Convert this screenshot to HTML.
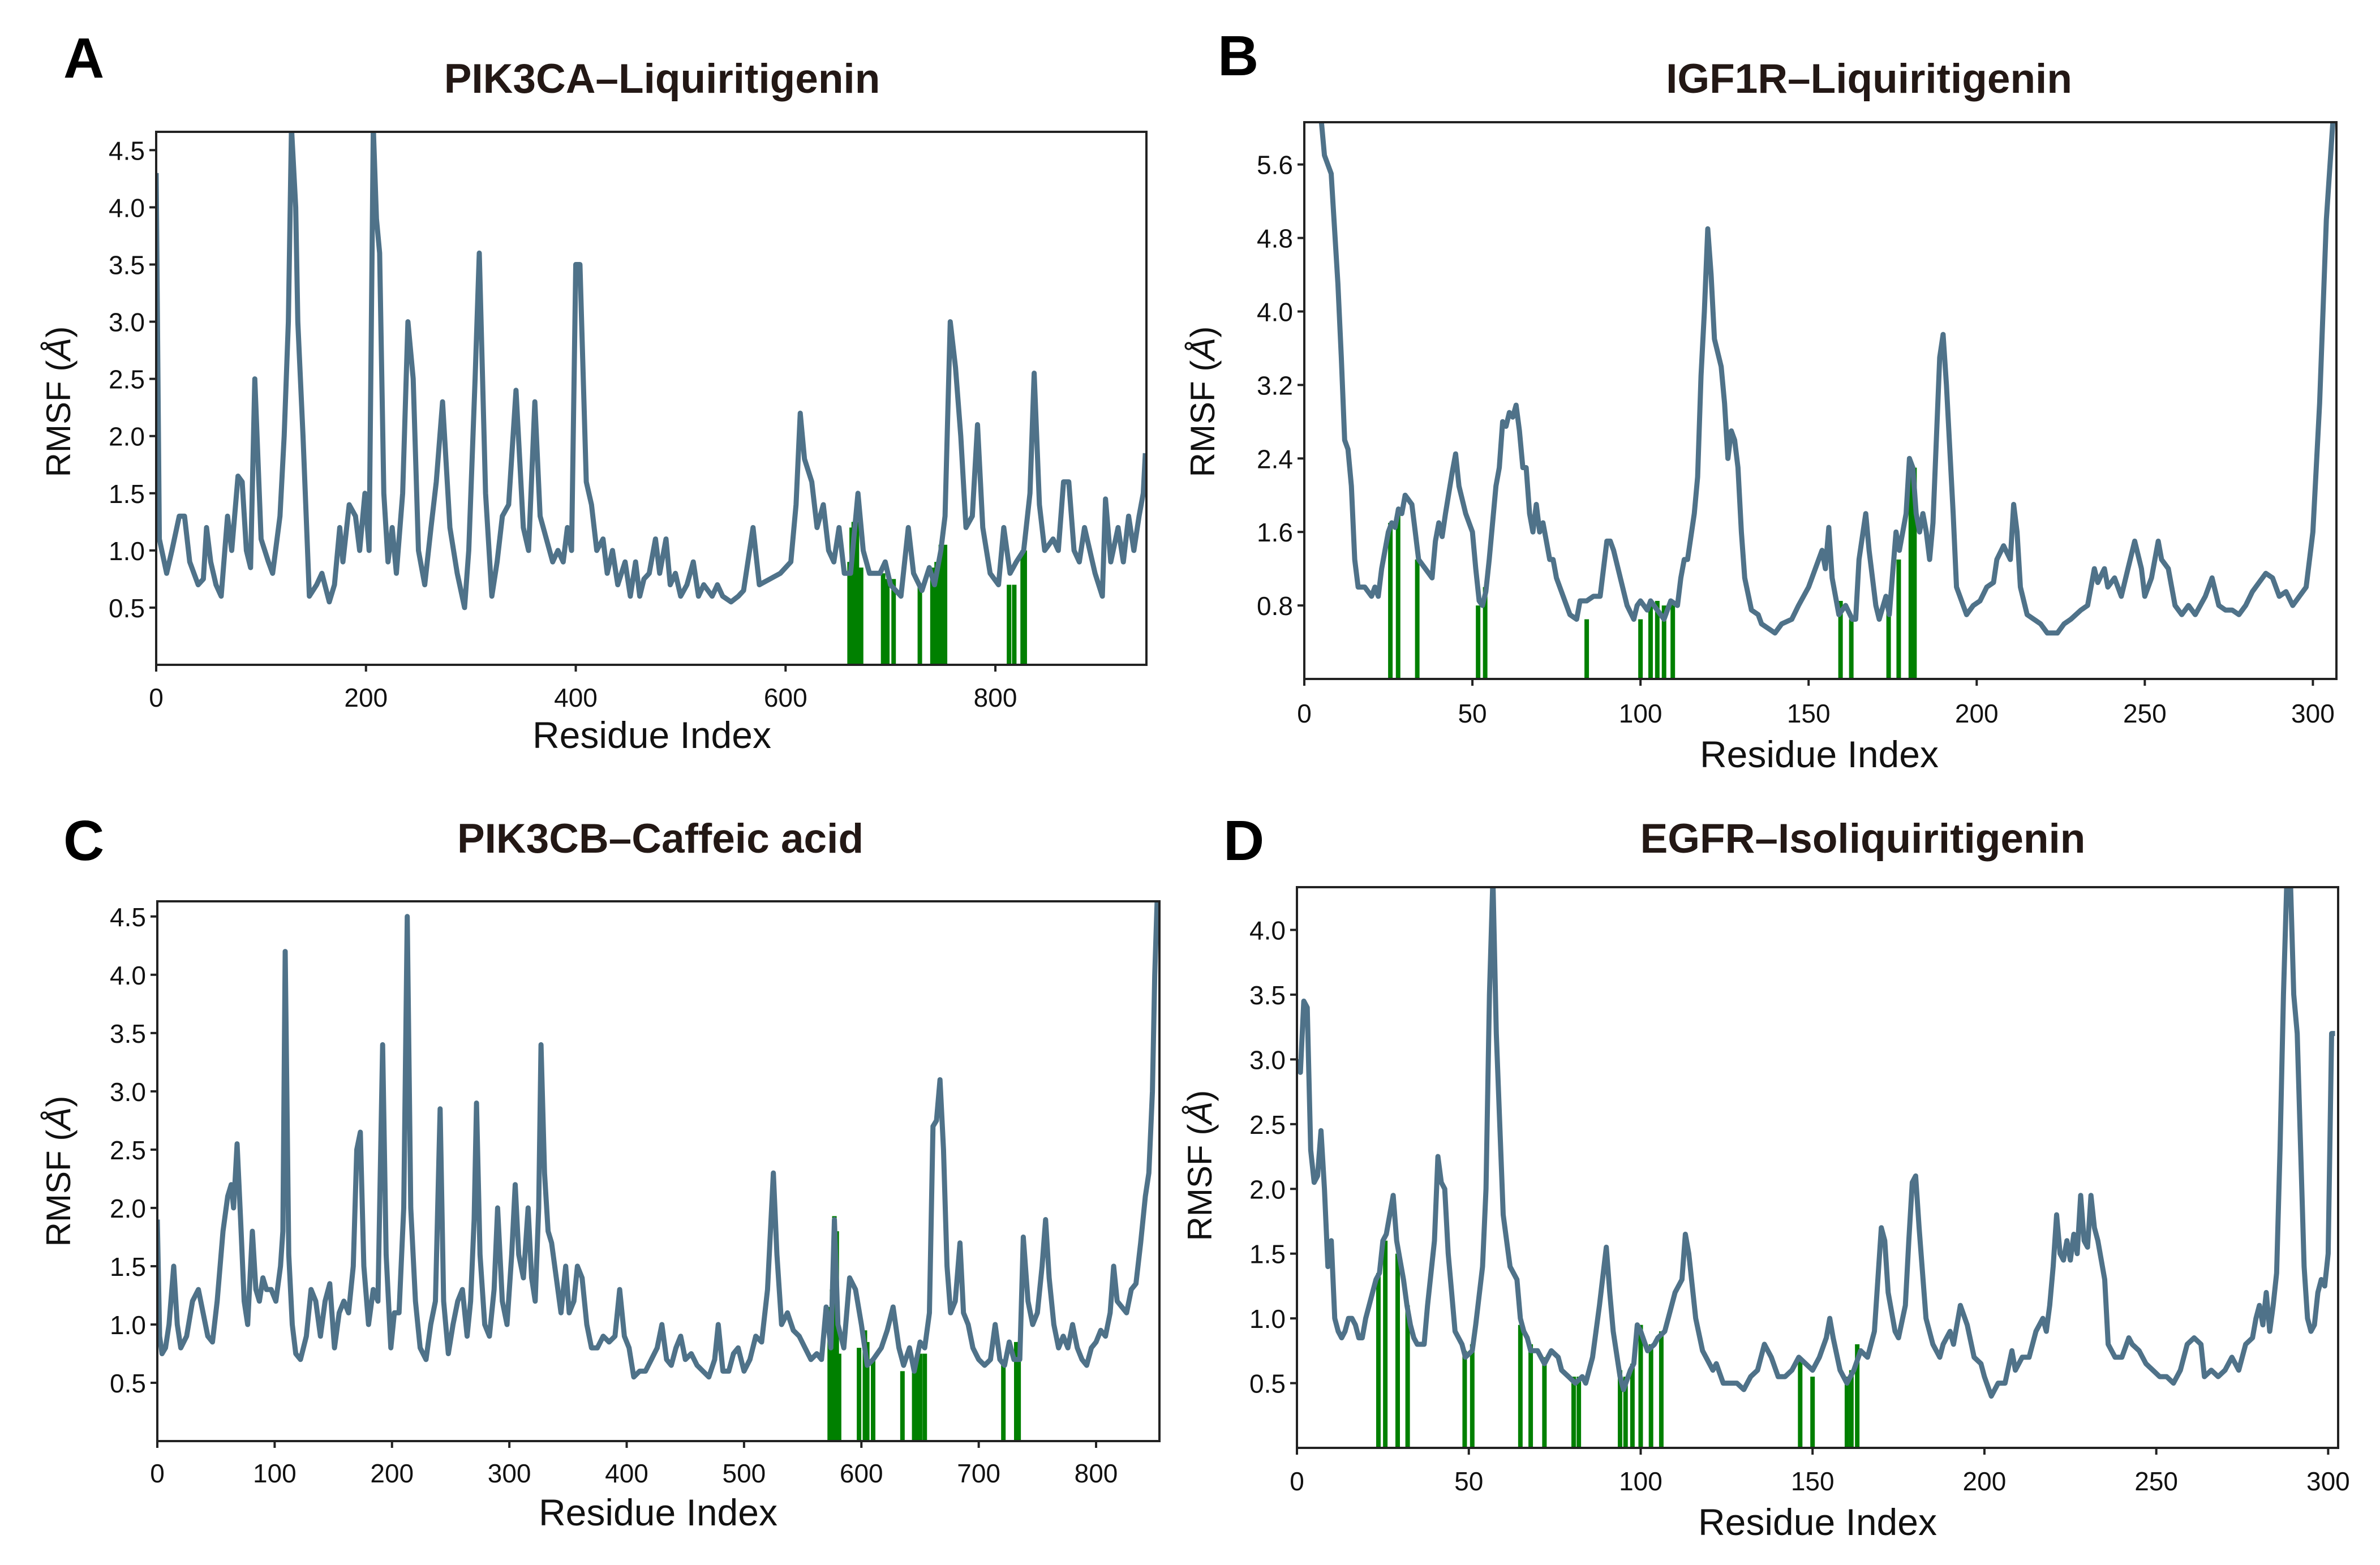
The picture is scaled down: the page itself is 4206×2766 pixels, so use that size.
<!DOCTYPE html>
<html><head><meta charset="utf-8"><style>
html,body{margin:0;padding:0;background:#fff}
svg{display:block}
text{font-family:"Liberation Sans","DejaVu Sans",sans-serif}
</style></head><body>
<svg id="fig" xmlns="http://www.w3.org/2000/svg" width="4206" height="2766" viewBox="0 0 4206 2766"></svg>
<script>
// ---- Panel A data ----
const aRes=[0,3,10,15,22,27,32,40,45,48,52,57,62,68,72,78,82,86,90,94,100,107,111,118,122,126,129,133,135,140,146,153,158,165,170,175,178,184,190,194,199,203,207,210,213,217,221,225,229,235,240,245,250,256,262,267,273,280,287,294,298,304,308,314,320,325,330,336,343,350,355,361,366,372,378,383,388,392,396,400,404,410,415,420,426,430,435,440,447,452,457,461,465,470,476,480,486,490,495,500,506,512,517,522,530,535,540,548,555,560,569,575,585,595,605,610,614,618,625,630,636,641,646,651,656,662,669,674,680,690,695,700,710,717,722,730,737,742,748,752,757,762,767,772,778,783,788,795,803,808,814,820,827,833,837,842,847,855,860,865,870,875,880,885,895,902,905,910,917,922,927,932,937,941,943];
const aVal=[4.3,1.1,0.8,1.0,1.3,1.3,0.9,0.7,0.75,1.2,0.9,0.7,0.6,1.3,1.0,1.65,1.6,1.0,0.85,2.5,1.1,0.9,0.8,1.3,2.0,3.0,4.7,4.0,3.0,2.0,0.6,0.7,0.8,0.55,0.7,1.2,0.9,1.4,1.3,1.0,1.5,1.0,4.7,3.9,3.6,1.5,0.9,1.2,0.8,1.5,3.0,2.5,1.0,0.7,1.2,1.6,2.3,1.2,0.8,0.5,1.0,2.5,3.6,1.5,0.6,0.9,1.3,1.4,2.4,1.2,1.0,2.3,1.3,1.1,0.9,1.0,0.9,1.2,1.0,3.5,3.5,1.6,1.4,1.0,1.1,0.8,1.0,0.7,0.9,0.6,0.9,0.6,0.75,0.8,1.1,0.8,1.1,0.7,0.8,0.6,0.7,0.9,0.6,0.7,0.6,0.7,0.6,0.55,0.6,0.65,1.2,0.7,0.75,0.8,0.9,1.4,2.2,1.8,1.6,1.2,1.4,1.0,0.9,1.2,0.8,0.8,1.5,1.0,0.8,0.8,0.9,0.7,0.6,1.2,0.8,0.65,0.85,0.7,1.0,1.3,3.0,2.6,2.0,1.2,1.3,2.1,1.2,0.8,0.7,1.2,0.8,0.9,1.0,1.5,2.55,1.4,1.0,1.1,1.0,1.6,1.6,1.0,0.9,1.2,0.8,0.6,1.45,0.9,1.2,0.9,1.3,1.0,1.3,1.5,1.85];
const aSiteRes=[661,663,665,668,672,693,697,703,728,740,744,748,752,813,818,826,828];
const aSiteVal=[0.9,1.2,1.25,1.25,0.85,0.8,0.75,0.75,0.7,0.85,0.9,1.05,1.05,0.7,0.7,1.0,1.0];
const aXTicks=[0,200,400,600,800];
const aYTicks=[0.5,1.0,1.5,2.0,2.5,3.0,3.5,4.0,4.5];
// ---- Panel B data ----
const bRes=[5,6,8,10,11,12,13,14,15,16,18,20,21,22,23,25,26,27,28,29,30,31,32,33,34,36,38,39,40,41,42,44,45,46,48,50,51,52,53,54,55,57,58,59,60,61,62,63,64,65,66,67,68,69,70,71,72,73,74,75,76,77,79,81,82,84,86,88,90,91,92,94,96,98,99,100,102,103,105,107,109,111,112,113,114,116,117,118,119,120,121,122,124,125,126,127,128,129,130,131,133,135,136,138,140,142,145,147,150,152,154,155,156,157,159,161,163,164,165,167,168,170,171,173,174,176,177,178,179,180,181,182,183,184,185,186,187,189,190,191,193,194,195,197,199,201,203,205,206,208,210,211,212,213,215,217,219,221,224,226,228,231,233,235,236,238,239,241,243,245,247,249,250,252,254,255,257,259,261,263,265,268,270,272,274,276,278,280,282,284,286,288,290,292,294,296,298,300,302,304,306];
const bVal=[6.1,5.7,5.5,4.3,3.5,2.6,2.5,2.1,1.3,1.0,1.0,0.9,1.0,0.9,1.2,1.6,1.7,1.65,1.85,1.8,2.0,1.95,1.9,1.6,1.3,1.2,1.1,1.5,1.7,1.55,1.8,2.25,2.45,2.1,1.8,1.6,1.2,0.85,0.8,0.95,1.3,2.1,2.3,2.8,2.75,2.9,2.85,2.98,2.7,2.3,2.3,1.8,1.6,1.9,1.6,1.7,1.5,1.3,1.3,1.1,1.0,0.9,0.7,0.65,0.85,0.85,0.9,0.9,1.5,1.5,1.4,1.1,0.8,0.65,0.8,0.85,0.75,0.85,0.75,0.65,0.85,0.8,1.1,1.3,1.3,1.8,2.2,3.3,4.0,4.9,4.4,3.7,3.4,3.0,2.4,2.7,2.6,2.3,1.6,1.1,0.75,0.7,0.6,0.55,0.5,0.6,0.65,0.8,1.0,1.2,1.4,1.2,1.65,1.1,0.7,0.8,0.65,0.65,1.3,1.8,1.4,0.8,0.65,0.9,0.7,1.6,1.4,1.6,1.8,2.4,2.3,1.8,1.6,1.8,1.6,1.3,1.7,3.5,3.75,3.2,1.8,1.0,0.9,0.7,0.8,0.85,1.0,1.05,1.3,1.45,1.3,1.9,1.6,1.0,0.7,0.65,0.6,0.5,0.5,0.6,0.65,0.75,0.8,1.2,1.05,1.2,1.0,1.1,0.9,1.2,1.5,1.2,0.9,1.1,1.5,1.3,1.2,0.8,0.7,0.8,0.7,0.9,1.1,0.8,0.75,0.75,0.7,0.8,0.95,1.05,1.15,1.1,0.9,0.95,0.8,0.9,1.0,1.6,3.0,5.0,6.1];
const bSiteRes=[25.6,27.9,33.6,51.7,53.8,84,100,103,105,107,109.6,159.5,162.7,173.8,176.8,180.4,181.5];
const bSiteVal=[1.7,1.85,1.3,0.8,1.0,0.65,0.65,0.8,0.85,0.8,0.85,0.85,0.65,0.75,1.3,2.35,2.3];
const bXTicks=[0,50,100,150,200,250,300];
const bYTicks=[0.8,1.6,2.4,3.2,4.0,4.8,5.6];
// ---- Panel C data ----
const cRes=[0,2,4,7,10,14,17,20,25,30,35,39,43,47,51,56,60,63,65,68,71,74,77,81,84,87,90,93,97,101,105,107,109,112,115,118,122,127,131,135,139,143,147,151,155,159,163,167,170,173,176,180,184,188,192,195,199,202,206,210,213,216,220,224,229,233,237,241,244,248,252,256,260,264,267,270,272,275,279,283,287,290,294,298,302,305,308,312,316,319,322,325,327,330,333,336,340,344,348,351,355,358,362,366,370,375,380,385,390,394,398,402,406,411,416,421,426,430,434,438,442,446,450,455,460,465,470,475,478,482,487,491,495,500,505,510,515,520,525,528,532,537,542,547,552,557,562,566,570,574,577,580,585,590,595,600,605,610,617,622,627,632,636,641,645,650,654,658,661,664,667,670,673,676,680,684,687,691,695,700,705,710,714,718,722,726,730,735,738,742,746,750,754,757,760,764,768,772,776,780,784,788,792,796,800,804,808,812,815,818,822,826,830,834,838,842,845,848,850,852,854];
const cVal=[1.9,0.9,0.75,0.8,1.0,1.5,1.0,0.8,0.9,1.2,1.3,1.1,0.9,0.85,1.2,1.8,2.1,2.2,2.0,2.55,1.9,1.2,1.0,1.8,1.3,1.2,1.4,1.3,1.3,1.2,1.5,1.8,4.2,1.6,1.0,0.75,0.7,0.9,1.3,1.2,0.9,1.2,1.35,0.8,1.1,1.2,1.1,1.5,2.5,2.65,1.5,1.0,1.3,1.2,3.4,1.6,0.8,1.1,1.1,2.0,4.5,2.0,1.2,0.8,0.7,1.0,1.2,2.85,1.2,0.75,1.0,1.2,1.3,0.9,1.2,1.9,2.9,1.6,1.0,0.9,1.3,2.0,1.2,1.0,1.6,2.2,1.6,1.4,2.0,1.4,1.2,2.0,3.4,2.3,1.8,1.7,1.4,1.1,1.5,1.1,1.2,1.5,1.4,1.0,0.8,0.8,0.9,0.85,0.9,1.3,0.9,0.8,0.55,0.6,0.6,0.7,0.8,1.0,0.7,0.65,0.8,0.9,0.7,0.75,0.65,0.6,0.55,0.7,1.0,0.6,0.6,0.75,0.8,0.6,0.7,0.9,0.85,1.3,2.3,1.6,1.0,1.1,0.95,0.9,0.8,0.7,0.75,0.7,1.15,0.8,1.9,1.0,0.8,1.4,1.3,1.0,0.65,0.7,0.8,0.95,1.15,0.8,0.65,0.8,0.6,0.85,0.8,1.1,2.7,2.75,3.1,2.5,1.5,1.1,1.2,1.7,1.1,1.0,0.8,0.7,0.65,0.7,1.0,0.7,0.65,0.85,0.7,0.7,1.75,1.2,1.0,1.1,1.5,1.9,1.4,1.0,0.8,0.9,0.8,1.0,0.8,0.7,0.65,0.8,0.85,0.95,0.9,1.1,1.5,1.2,1.15,1.1,1.3,1.35,1.7,2.1,2.3,3.0,4.0,4.63,4.63];
const cSiteRes=[573,575,577,579,581,598,603,605,610,635,645,648,650,654,721,732,734];
const cSiteVal=[1.15,1.3,1.93,1.8,0.75,0.8,0.95,0.85,0.7,0.6,0.7,0.75,0.75,0.75,0.7,0.85,0.85];
const cXTicks=[0,100,200,300,400,500,600,700,800];
const cYTicks=[0.5,1.0,1.5,2.0,2.5,3.0,3.5,4.0,4.5];
// ---- Panel D data ----
const dRes=[0,1,2,3,4,5,6,7,8,9,10,11,12,13,14,15,16,17,18,19,20,22,23,24,25,26,27,28,29,30,31,32,33,34,35,37,38,40,41,42,43,44,45,46,48,49,51,52,54,55,56,57,58,59,60,62,63,64,65,66,67,68,70,72,74,76,77,79,81,83,84,86,88,90,91,92,94,95,97,98,99,100,102,104,105,107,108,110,112,113,114,116,118,120,121,122,124,126,128,130,132,134,136,138,140,142,144,146,148,150,152,154,155,156,158,160,162,164,166,168,169,170,171,172,174,175,177,178,179,180,181,183,185,187,188,190,191,193,195,197,199,200,202,204,206,208,209,211,213,215,217,218,219,220,221,222,223,224,225,226,227,228,229,230,231,232,233,235,236,238,240,242,243,245,247,249,251,253,255,257,259,261,263,264,266,268,270,272,274,276,278,279,280,281,282,283,284,285,286,287,288,289,290,291,292,293,294,295,296,297,298,299,300,301,302];
const dVal=[3.0,2.9,3.45,3.4,2.3,2.05,2.1,2.45,2.0,1.4,1.6,1.0,0.9,0.85,0.9,1.0,1.0,0.95,0.85,0.85,1.0,1.2,1.3,1.35,1.6,1.65,1.8,1.95,1.6,1.45,1.3,1.1,0.95,0.85,0.8,0.8,1.1,1.6,2.25,2.05,2.0,1.5,1.2,0.9,0.8,0.7,0.75,0.95,1.4,2.0,3.5,4.4,3.2,2.5,1.8,1.4,1.35,1.3,1.0,0.9,0.85,0.75,0.75,0.65,0.75,0.7,0.6,0.55,0.5,0.55,0.5,0.7,1.1,1.55,1.2,0.9,0.55,0.45,0.6,0.65,0.95,0.9,0.75,0.8,0.85,0.9,1.0,1.2,1.3,1.65,1.5,1.0,0.75,0.65,0.6,0.65,0.5,0.5,0.5,0.45,0.55,0.6,0.8,0.7,0.55,0.55,0.6,0.7,0.65,0.6,0.7,0.85,1.0,0.85,0.6,0.5,0.6,0.75,0.7,0.9,1.3,1.7,1.6,1.2,0.9,0.85,1.1,1.6,2.05,2.1,1.7,1.0,0.8,0.7,0.8,0.9,0.8,1.1,0.95,0.7,0.65,0.55,0.4,0.5,0.5,0.75,0.6,0.7,0.7,0.9,1.0,0.9,1.1,1.4,1.8,1.5,1.45,1.6,1.45,1.65,1.5,1.95,1.6,1.55,1.95,1.7,1.6,1.3,0.8,0.7,0.7,0.85,0.8,0.75,0.65,0.6,0.55,0.55,0.5,0.6,0.8,0.85,0.8,0.55,0.6,0.55,0.6,0.7,0.6,0.8,0.85,1.0,1.1,0.95,1.2,0.9,1.1,1.35,2.3,3.5,4.4,4.4,3.5,3.2,2.3,1.4,1.0,0.9,0.95,1.2,1.3,1.25,1.5,3.2,3.2];
const dSiteRes=[23.7,25.7,29.3,32.2,48.8,51,65,68,72,80.5,82,94,95.6,97.6,100,103,106,146.4,150,160,161.3,163];
const dSiteVal=[1.35,1.6,1.5,1.1,0.75,0.8,0.95,0.8,0.7,0.55,0.55,0.6,0.55,0.65,0.95,0.8,0.9,0.7,0.55,0.55,0.6,0.8];
const dXTicks=[0,50,100,150,200,250,300];
const dYTicks=[0.5,1.0,1.5,2.0,2.5,3.0,3.5,4.0];

const NS='http://www.w3.org/2000/svg';
const svg=document.getElementById('fig');
function mk(tag,attrs,parent){const e=document.createElementNS(NS,tag);for(const k in attrs)e.setAttribute(k,attrs[k]);(parent||svg).appendChild(e);return e;}

const panels=[
 {id:'a',letter:'A',title:'PIK3CA–Liquiritigenin',L:276,R:2026,T:233,B:1175,x0:0,x1:944,y0:0,y1:4.66,res:aRes,val:aVal,sr:aSiteRes,sv:aSiteVal,xt:aXTicks,yt:aYTicks,
  titleX:1170,titleY:164,letX:112,letY:137,ylabX:108,ylabY:710,xtY:1249,xlabY:1322,xlabX:1152},
 {id:'b',letter:'B',title:'IGF1R–Liquiritigenin',L:2305,R:4129,T:216,B:1200,x0:0,x1:307,y0:0,y1:6.06,res:bRes,val:bVal,sr:bSiteRes,sv:bSiteVal,xt:bXTicks,yt:bYTicks,
  titleX:3303,titleY:164,letX:2152,letY:133,ylabX:2130,ylabY:710,xtY:1277,xlabY:1356,xlabX:3215},
 {id:'c',letter:'C',title:'PIK3CB–Caffeic acid',L:278,R:2049,T:1593,B:2547,x0:0,x1:854,y0:0,y1:4.63,res:cRes,val:cVal,sr:cSiteRes,sv:cSiteVal,xt:cXTicks,yt:cYTicks,
  titleX:1167,titleY:1507,letX:112,letY:1520,ylabX:108,ylabY:2070,xtY:2620,xlabY:2696,xlabX:1163},
 {id:'d',letter:'D',title:'EGFR–Isoliquiritigenin',L:2292,R:4132,T:1568,B:2559,x0:0,x1:302.9,y0:0,y1:4.33,res:dRes,val:dVal,sr:dSiteRes,sv:dSiteVal,xt:dXTicks,yt:dYTicks,
  titleX:3292,titleY:1507,letX:2162,letY:1520,ylabX:2125,ylabY:2060,xtY:2634,xlabY:2713,xlabX:3212}
];

panels.forEach(p=>{
  const sx=v=>p.L+(v-p.x0)/(p.x1-p.x0)*(p.R-p.L);
  const sy=v=>p.B-(v-p.y0)/(p.y1-p.y0)*(p.B-p.T);
  const g=mk('g',{});
  
  
  const defs=mk('defs',{},g);
  const cp=mk('clipPath',{id:'clip-'+p.id},defs);
  mk('rect',{x:p.L,y:p.T,width:p.R-p.L,height:p.B-p.T},cp);
  const lt=mk('text',{x:p.letX,y:p.letY,'font-size':100,'font-weight':'bold',fill:'#000'},g);
  lt.textContent=p.letter;
  
  
  const tt=mk('text',{x:p.titleX,y:p.titleY,'font-size':73,'font-weight':'bold',fill:'#231815','text-anchor':'middle'},g);
  tt.textContent=p.title;
  
  
  const pg=mk('g',{'clip-path':'url(#clip-'+p.id+')'},g);
  p.sr.forEach((r,i)=>{
    const x=sx(r);
    const ln=mk('line',{x1:x,x2:x,y1:p.B,y2:sy(p.sv[i]),stroke:'#008000','stroke-width':8},pg);
    
    
  });
  let d='';
  p.res.forEach((r,i)=>{d+=(i?'L':'M')+sx(r).toFixed(1)+' '+sy(p.val[i]).toFixed(1);});
  const path=mk('path',{d:d,fill:'none',stroke:'#4f7289','stroke-width':9,'stroke-linejoin':'round'},pg);
  
  
  const fr=mk('rect',{x:p.L,y:p.T,width:p.R-p.L,height:p.B-p.T,fill:'none',stroke:'#222','stroke-width':4},g);
  
  
  p.xt.forEach(v=>{
    const x=sx(v);
    mk('line',{x1:x,x2:x,y1:p.B,y2:p.B+12,stroke:'#222','stroke-width':4},g);
    const t=mk('text',{x:x,y:p.xtY,'font-size':46,'text-anchor':'middle',fill:'#111'},g);
    t.textContent=String(v);
    
    
  });
  p.yt.forEach(v=>{
    const y=sy(v);
    mk('line',{x1:p.L-12,x2:p.L,y1:y,y2:y,stroke:'#222','stroke-width':4},g);
    const t=mk('text',{x:p.L-20,y:y+17,'font-size':46,'text-anchor':'end',fill:'#111'},g);
    t.textContent=v.toFixed(1);
    
    
  });
  const xl=mk('text',{x:p.xlabX,y:p.xlabY,'font-size':66,'text-anchor':'middle',fill:'#111'},g);
  xl.textContent='Residue Index';
  
  
  const yl=mk('text',{x:p.ylabX,y:p.ylabY,'font-size':60,'text-anchor':'middle',fill:'#111',transform:'rotate(-90 '+p.ylabX+' '+p.ylabY+')','dominant-baseline':'middle'},g);
  yl.innerHTML='RMSF (<tspan font-style="italic">Å</tspan>)';
  
  
});
</script>
</body></html>
